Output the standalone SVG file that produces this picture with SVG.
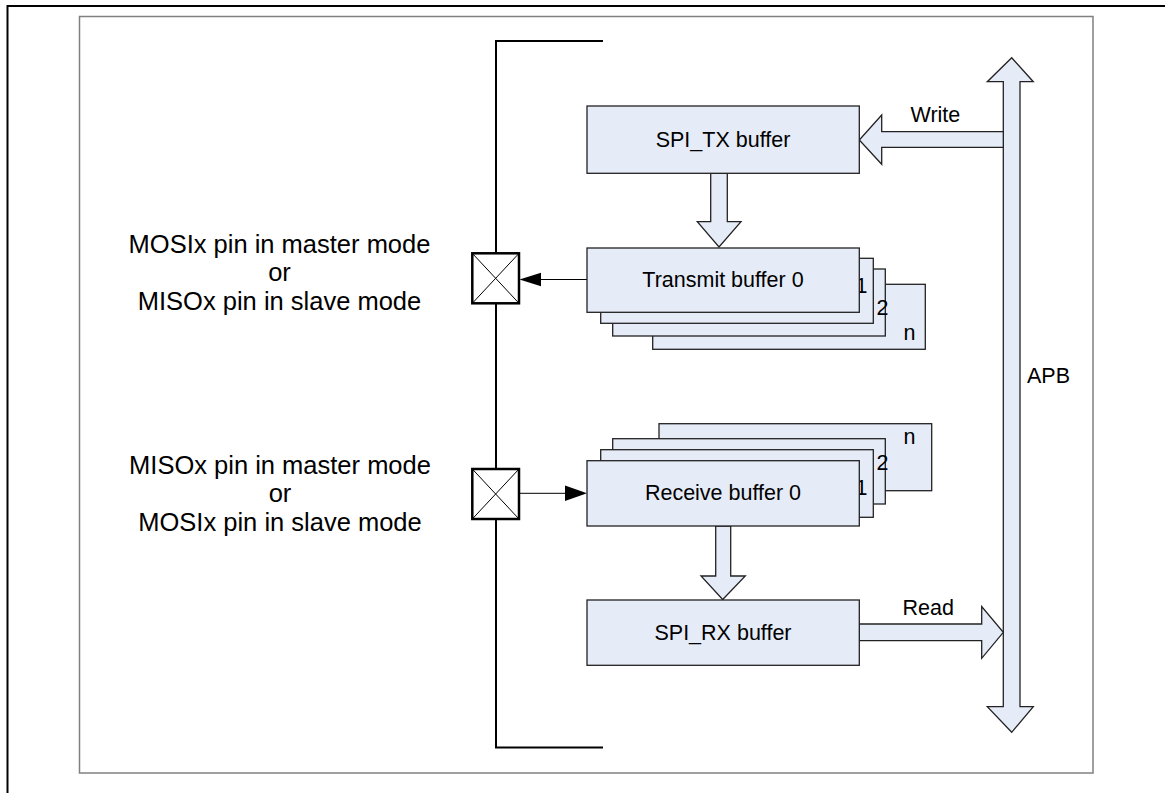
<svg xmlns="http://www.w3.org/2000/svg" width="1165" height="793" viewBox="0 0 1165 793">
<style>
.box{fill:#e6ecf7;stroke:#222;stroke-width:1.3}
.blk{fill:#e6ecf7;stroke:#222;stroke-width:1.3;stroke-linejoin:miter}
.t{font-family:"Liberation Sans",Arial,sans-serif;font-size:21.5px;fill:#000}
.lbl{font-family:"Liberation Sans",Arial,sans-serif;font-size:25.5px;fill:#000;text-anchor:middle}
.c{text-anchor:middle}
.pin{fill:#fff;stroke:#000;stroke-width:2.5}
.diag{stroke:#000;stroke-width:1}
</style>
<rect width="1165" height="793" fill="#fff"/>
<path d="M7.5,793 V6 H1165" fill="none" stroke="#000" stroke-width="2"/>
<rect x="79.5" y="16.5" width="1013.5" height="756.5" fill="none" stroke="#808080" stroke-width="1.5"/>

<g id="bracket">
<path d="M603,41 H496 V747.5 H603" fill="none" stroke="#000" stroke-width="2"/>
</g>

<g id="labels-left">
<text class="lbl" x="279.5" y="252.5">MOSIx pin in master mode</text>
<text class="lbl" x="279.5" y="281">or</text>
<text class="lbl" x="279.5" y="309.5">MISOx pin in slave mode</text>
<text class="lbl" x="280" y="473.5">MISOx pin in master mode</text>
<text class="lbl" x="280" y="502">or</text>
<text class="lbl" x="280" y="530.5">MOSIx pin in slave mode</text>
</g>

<g id="apb-bus">
<polygon class="blk" points="1003.3,706.7 1003.3,81.7 987.3,81.7 1011.7,57.7 1033.3,81.7 1020,81.7 1020,706.7 1033.3,706.7 1011.7,732.3 987.3,706.7"/>
<text class="t" x="1027" y="383">APB</text>
</g>

<g id="connectors">
<polygon class="blk" points="1003.3,131.7 881.7,131.7 881.7,115 859.3,140 881.7,164.3 881.7,147.3 1003.3,147.3"/>
<polygon class="blk" points="859.3,624 981.7,624 981.7,606.5 1003.3,632.3 981.7,658.3 981.7,640.7 859.3,640.7"/>
<polygon class="blk" points="710.7,173.3 710.7,221.7 697.3,221.7 719,247 741,221.7 727.3,221.7 727.3,173.3"/>
<polygon class="blk" points="715.7,526 715.7,576 701,576 722.7,599.5 745.3,576 730.7,576 730.7,526"/>
<line x1="540" y1="279.5" x2="587" y2="279.5" stroke="#000" stroke-width="1"/>
<polygon points="519.5,279.5 541,272.7 541,286.3" fill="#000"/>
<line x1="519" y1="493.3" x2="566" y2="493.3" stroke="#000" stroke-width="1"/>
<polygon points="587,493.3 565,485.5 565,501.1" fill="#000"/>
<text class="t" x="910.5" y="121.5">Write</text>
<text class="t" x="902.5" y="615">Read</text>
</g>

<g id="pin-tx">
<rect class="pin" x="472.3" y="253.3" width="46.7" height="50"/>
<line class="diag" x1="472.3" y1="253.3" x2="519" y2="303.3"/>
<line class="diag" x1="519" y1="253.3" x2="472.3" y2="303.3"/>
</g>
<g id="pin-rx">
<rect class="pin" x="472.3" y="469" width="46.7" height="50"/>
<line class="diag" x1="472.3" y1="469" x2="519" y2="519"/>
<line class="diag" x1="519" y1="469" x2="472.3" y2="519"/>
</g>

<g id="spi-tx-buffer">
<rect class="box" x="587" y="106" width="272.3" height="67.3"/>
<text class="t c" x="723" y="147">SPI_TX buffer</text>
</g>

<g id="transmit-buffers">
<rect class="box" x="652.7" y="284.3" width="272.6" height="65"/>
<text class="t" x="903.5" y="340">n</text>
<rect class="box" x="612.7" y="269" width="272.6" height="67"/>
<text class="t" x="876.5" y="315">2</text>
<rect class="box" x="600.7" y="258.3" width="272.6" height="65"/>
<text class="t" x="855.5" y="293">1</text>
<rect class="box" x="587" y="248" width="272.3" height="64.3"/>
<text class="t c" x="723" y="287">Transmit buffer 0</text>
</g>

<g id="receive-buffers">
<rect class="box" x="659" y="423.7" width="272.7" height="67"/>
<text class="t" x="903.5" y="443.5">n</text>
<rect class="box" x="612.7" y="438.7" width="272.6" height="65.3"/>
<text class="t" x="876.5" y="469.5">2</text>
<rect class="box" x="600.7" y="449.7" width="272.6" height="67.6"/>
<text class="t" x="855.5" y="495">1</text>
<rect class="box" x="587" y="460.7" width="272.3" height="65.3"/>
<text class="t c" x="723" y="500">Receive buffer 0</text>
</g>

<g id="spi-rx-buffer">
<rect class="box" x="587" y="600" width="272.3" height="65.3"/>
<text class="t c" x="723" y="640">SPI_RX buffer</text>
</g>
</svg>
